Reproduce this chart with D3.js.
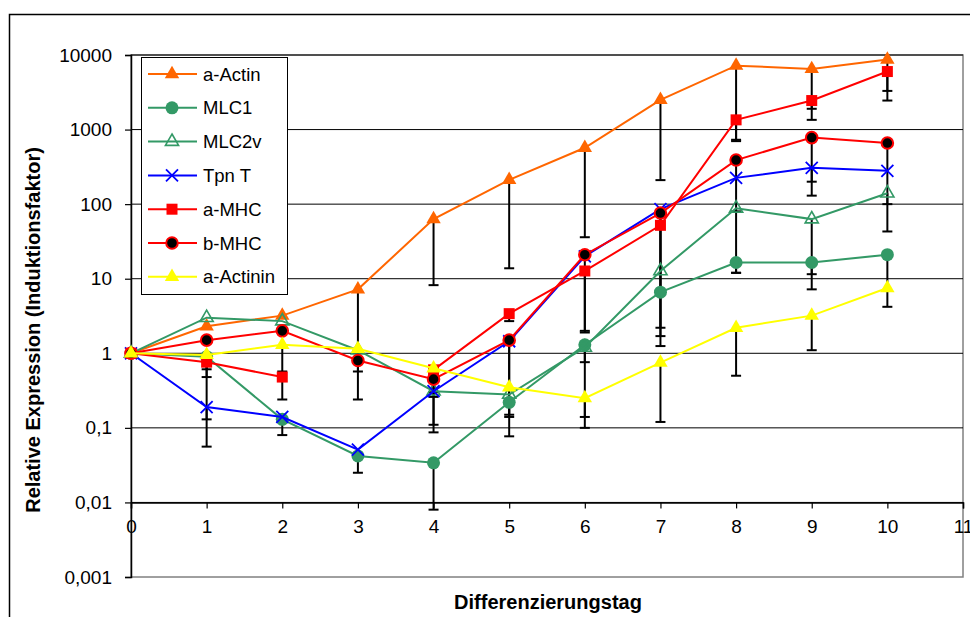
<!DOCTYPE html>
<html>
<head>
<meta charset="utf-8">
<script src="https://cdn.jsdelivr.net/npm/d3@7"></script>
<style>
  body { margin: 0; background: #fff; }
  text { font-family: "Liberation Sans", Arial, sans-serif; }
</style>
</head>
<body>
<svg id="chart"></svg>
<script>
// Chart data
const days = [0, 1, 2, 3, 4, 5, 6, 7, 8, 9, 10];
const seriesNames = ["a-Actin", "MLC1", "MLC2v", "Tpn T", "a-MHC", "b-MHC", "a-Actinin"];

const aActin = [1, 2.3, 3.2, 7.2, 63, 212, 570, 2500, 7200, 6500, 8700];
const mlc1 = [1, 0.9, 0.13, 0.042, 0.034, 0.22, 1.3, 6.6, 16.5, 16.5, 21];
const mlc2v = [1, 3.0, 2.7, 1.1, 0.31, 0.28, 1.2, 12.7, 88, 63, 140];
const tpnT = [1, 0.19, 0.14, 0.051, 0.31, 1.45, 20, 86, 225, 307, 280];
const aMHC = [1, 0.76, 0.48, null, 0.6, 3.4, 12.7, 52, 1350, 2450, 6000];
const bMHC = [1, 1.5, 2.0, 0.8, 0.45, 1.5, 21, 76, 390, 780, 660];
const aActinin = [1, 0.95, 1.3, 1.15, 0.63, 0.35, 0.25, 0.75, 2.2, 3.2, 7.5];

// lower ends of the (minus) error bars
const aActinLo = [null, null, null, 0.24, 8.2, 13.8, 36, 210, 730, 1900, 3300];
const mlc1Lo = [null, 0.056, 0.08, 0.025, 0.008, 0.077, 0.76, null, 12, 7.2, 4.2];
const mlc2vLo = [null, null, null, null, null, null, 0.1, null, 12, 11.5, 43];
const tpnTLo = [null, 0.13, null, null, 0.087, 0.14, null, 1.7, null, 130, null];
const aMHCLo = [null, 0.48, 0.24, null, 0.3, 2.7, 1.9, 1.25, 700, 1350, 2450];
const bMHCLo = [null, null, null, 0.57, 0.26, 0.15, 2.0, 2.2, 80, 200, 100];
const aActininLo = [null, 0.61, 0.57, null, 0.11, null, 0.14, 0.12, 0.5, 1.1, null];

const yTicks = [0.001, 0.01, 0.1, 1, 10, 100, 1000, 10000];
const yTickLabels = ["0,001", "0,01", "0,1", "1", "10", "100", "1000", "10000"];
const xTicks = [0, 1, 2, 3, 4, 5, 6, 7, 8, 9, 10, 11];

const width = 970;
const height = 617;
const narrow = "'Liberation Sans Narrow', 'Arial Narrow', 'Liberation Sans', sans-serif";

const series = [
  { name: seriesNames[0], values: aActin, lo: aActinLo, color: "#FF6600", marker: "triangle" },
  { name: seriesNames[1], values: mlc1, lo: mlc1Lo, color: "#339966", marker: "circle" },
  { name: seriesNames[2], values: mlc2v, lo: mlc2vLo, color: "#339966", marker: "opentriangle" },
  { name: seriesNames[3], values: tpnT, lo: tpnTLo, color: "#0000FF", marker: "x" },
  { name: seriesNames[4], values: aMHC, lo: aMHCLo, color: "#FF0000", marker: "square" },
  { name: seriesNames[5], values: bMHC, lo: bMHCLo, color: "#FF0000", marker: "blackcircle" },
  { name: seriesNames[6], values: aActinin, lo: aActininLo, color: "#FFFF00", marker: "triangle" }
];

const svg = d3.select("#chart").attr("width", width).attr("height", height);

svg.append("rect").attr("width", width).attr("height", height).attr("fill", "#fff");

// outer chart frame
svg.append("rect")
  .attr("x", 9.5).attr("y", 14.5)
  .attr("width", 1000).attr("height", 1000)
  .attr("fill", "none").attr("stroke", "#000").attr("stroke-width", 1.5);

// scales
const x = d3.scaleLinear().domain([0, 11]).range([131, 963]);
const y = d3.scaleLog().domain([0.001, 10000]).range([577, 55]);

// plot area border (gray)
svg.append("rect")
  .attr("x", x(0)).attr("y", y(10000))
  .attr("width", x(11) - x(0)).attr("height", y(0.001) - y(10000))
  .attr("fill", "none").attr("stroke", "#808080").attr("stroke-width", 1.5);

// gridlines
svg.append("g")
  .selectAll("line")
  .data(yTicks.slice(1))
  .join("line")
  .attr("x1", x(0)).attr("x2", x(11))
  .attr("y1", (d) => y(d)).attr("y2", (d) => y(d))
  .attr("stroke", "#000").attr("stroke-width", 1);

// y axis
const yAxis = svg.append("g")
  .attr("transform", `translate(${x(0)},0)`)
  .call(d3.axisLeft(y).tickValues(yTicks).tickSize(6).tickFormat((d, i) => yTickLabels[i]));
yAxis.select(".domain").attr("stroke", "#000").attr("stroke-width", 1.5);
yAxis.selectAll(".tick line").attr("stroke", "#000").attr("stroke-width", 1.2);
yAxis.selectAll(".tick text")
  .attr("x", -19)
  .style("font-family", "'Liberation Sans', Arial, sans-serif")
  .style("font-size", "19px").attr("fill", "#000");

// x axis crossing at 0,01
const xAxis = svg.append("g")
  .attr("transform", `translate(0,${y(0.01)})`)
  .call(d3.axisBottom(x).tickValues(xTicks).tickSize(6).tickFormat(d3.format("d")));
xAxis.select(".domain").attr("stroke", "#000").attr("stroke-width", 1.5);
xAxis.selectAll(".tick line").attr("stroke", "#000").attr("stroke-width", 1.2);
xAxis.selectAll(".tick text")
  .attr("y", 17)
  .style("font-family", narrow)
  .style("font-size", "19px").attr("fill", "#000");

// axis titles
svg.append("text")
  .attr("transform", `translate(40,${(y(10000) + y(0.001)) / 2 + 14}) rotate(-90)`)
  .attr("text-anchor", "middle")
  .style("font-size", "20px").style("font-weight", "bold")
  .text("Relative Expression (Induktionsfaktor)");

svg.append("text")
  .attr("x", 548).attr("y", 609)
  .attr("text-anchor", "middle")
  .style("font-family", narrow)
  .style("font-size", "20px").style("font-weight", "bold")
  .text("Differenzierungstag");

// error bars
const bars = [];
series.forEach((s) => {
  s.values.forEach((v, i) => {
    if (v != null && s.lo[i] != null) bars.push({ x: days[i], hi: v, lo: s.lo[i] });
  });
});
const eb = svg.append("g").attr("stroke", "#000").attr("stroke-width", 2);
eb.selectAll(".ebv")
  .data(bars)
  .join("line")
  .attr("x1", (d) => x(d.x)).attr("x2", (d) => x(d.x))
  .attr("y1", (d) => y(d.hi)).attr("y2", (d) => y(d.lo));
eb.selectAll(".ebc")
  .data(bars)
  .join("line")
  .attr("x1", (d) => x(d.x) - 5).attr("x2", (d) => x(d.x) + 5)
  .attr("y1", (d) => y(d.lo)).attr("y2", (d) => y(d.lo));

// markers
function drawMarker(g, type, color) {
  if (type === "triangle") {
    g.append("path").attr("d", d3.symbol(d3.symbolTriangle, 90)()).attr("fill", color);
  } else if (type === "opentriangle") {
    g.append("path").attr("d", d3.symbol(d3.symbolTriangle, 75)())
      .attr("fill", "none").attr("stroke", color).attr("stroke-width", 1.6);
  } else if (type === "circle") {
    g.append("circle").attr("r", 6.5).attr("fill", color);
  } else if (type === "blackcircle") {
    g.append("circle").attr("r", 5.8).attr("fill", "#000").attr("stroke", color).attr("stroke-width", 2);
  } else if (type === "square") {
    g.append("rect").attr("x", -5.5).attr("y", -5.5).attr("width", 11).attr("height", 11).attr("fill", color);
  } else if (type === "x") {
    g.append("path").attr("d", "M-6,-6L6,6M-6,6L6,-6").attr("stroke", color).attr("stroke-width", 1.8);
  }
}

const line = d3.line()
  .defined((d) => d.v != null)
  .x((d) => x(d.x))
  .y((d) => y(d.v));

series.forEach((s) => {
  const pts = s.values.map((v, i) => ({ x: days[i], v: v }));
  const g = svg.append("g");
  g.append("path")
    .datum(pts)
    .attr("d", line)
    .attr("fill", "none")
    .attr("stroke", s.color)
    .attr("stroke-width", 2);
  g.selectAll(".m")
    .data(pts.filter((d) => d.v != null))
    .join("g")
    .attr("transform", (d) => `translate(${x(d.x)},${y(d.v)})`)
    .each(function () { drawMarker(d3.select(this), s.marker, s.color); });
});

// legend
const legend = svg.append("g");
legend.append("rect")
  .attr("x", 141.5).attr("y", 57.5).attr("width", 146).attr("height", 237)
  .attr("fill", "#fff").attr("stroke", "#000").attr("stroke-width", 1);
const items = legend.selectAll(".item")
  .data(series)
  .join("g")
  .attr("transform", (d, i) => `translate(0,${74 + i * 33.8})`);
items.append("line")
  .attr("x1", 148).attr("x2", 197)
  .attr("stroke", (d) => d.color).attr("stroke-width", 2);
items.append("g")
  .attr("transform", "translate(172,0)")
  .each(function (d) { drawMarker(d3.select(this), d.marker, d.color); });
items.append("text")
  .attr("x", 203).attr("y", 6.5)
  .style("font-size", "18.5px")
  .text((d) => d.name);
</script>
</body>
</html>
